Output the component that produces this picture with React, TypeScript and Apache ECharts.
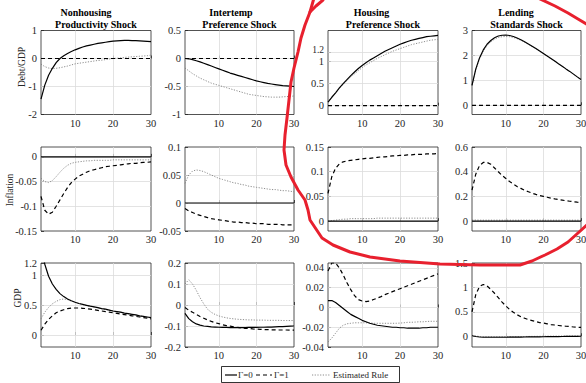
import React, { useEffect, useRef } from "react";
import * as echarts from "echarts";

const periods = [1,2,3,4,5,6,7,8,9,10,11,12,13,14,15,16,17,18,19,20,21,22,23,24,25,26,27,28,29,30];
const zeros = [0,0,0,0,0,0,0,0,0,0,0,0,0,0,0,0,0,0,0,0,0,0,0,0,0,0,0,0,0,0];
const xTicks = [10, 20, 30];

const shockTitles = [["Nonhousing", "Productivity Shock"], ["Intertemp", "Preference Shock"], ["Housing", "Preference Shock"], ["Lending", "Standards Shock"]];
const rowNames = ["Debt/GDP", "Inflation", "GDP"];
const legendNames = ["\u0393=0", "\u0393=1", "Estimated Rule"];

// Row 1: Debt/GDP
const debtProdG0 = [-1.45,-0.95,-0.6,-0.35,-0.15,0.0,0.1,0.18,0.25,0.31,0.36,0.41,0.45,0.48,0.51,0.54,0.56,0.58,0.6,0.62,0.63,0.64,0.645,0.645,0.64,0.635,0.63,0.62,0.61,0.6];
const debtProdG1 = zeros;
const debtProdEst = [-0.2,-0.29,-0.34,-0.36,-0.35,-0.33,-0.3,-0.27,-0.23,-0.19,-0.17,-0.15,-0.13,-0.11,-0.09,-0.07,-0.06,-0.04,-0.02,0.0,0.01,0.02,0.04,0.05,0.06,0.07,0.08,0.09,0.1,0.12];

const debtIntG0 = [0,-0.005,-0.02,-0.04,-0.06,-0.085,-0.11,-0.135,-0.16,-0.185,-0.21,-0.235,-0.26,-0.28,-0.3,-0.32,-0.34,-0.36,-0.38,-0.4,-0.415,-0.43,-0.445,-0.455,-0.465,-0.475,-0.485,-0.49,-0.495,-0.5];
const debtIntG1 = zeros;
const debtIntEst = [-0.17,-0.22,-0.27,-0.31,-0.35,-0.38,-0.41,-0.44,-0.46,-0.48,-0.5,-0.52,-0.54,-0.56,-0.58,-0.6,-0.62,-0.64,-0.65,-0.66,-0.67,-0.68,-0.685,-0.69,-0.69,-0.69,-0.685,-0.68,-0.675,-0.67];

const debtHousG0 = [0.08,0.19,0.29,0.4,0.5,0.59,0.68,0.76,0.84,0.91,0.97,1.03,1.08,1.13,1.18,1.23,1.27,1.31,1.35,1.39,1.42,1.45,1.48,1.5,1.52,1.54,1.56,1.57,1.58,1.59];
const debtHousG1 = zeros;
const debtHousEst = [0.08,0.19,0.29,0.39,0.48,0.57,0.65,0.72,0.79,0.86,0.92,0.97,1.02,1.07,1.11,1.15,1.19,1.23,1.26,1.29,1.32,1.35,1.38,1.4,1.42,1.44,1.46,1.48,1.49,1.5];

const debtLendG0 = [0.8,1.45,1.9,2.22,2.45,2.6,2.71,2.78,2.81,2.82,2.8,2.76,2.7,2.63,2.55,2.46,2.37,2.28,2.18,2.08,1.98,1.88,1.78,1.67,1.57,1.46,1.36,1.25,1.14,1.03];
const debtLendG1 = zeros;
const debtLendEst = [0.8,1.42,1.86,2.17,2.39,2.55,2.65,2.72,2.75,2.76,2.75,2.72,2.67,2.61,2.53,2.45,2.36,2.27,2.17,2.07,1.97,1.87,1.77,1.67,1.56,1.46,1.35,1.25,1.14,1.03];

// Row 2: Inflation
const inflProdG0 = zeros;
const inflProdG1 = [-0.08,-0.108,-0.116,-0.112,-0.1,-0.087,-0.074,-0.062,-0.052,-0.045,-0.039,-0.035,-0.031,-0.028,-0.026,-0.024,-0.022,-0.02,-0.019,-0.018,-0.017,-0.016,-0.015,-0.014,-0.013,-0.013,-0.012,-0.011,-0.011,-0.01];
const inflProdEst = [-0.043,-0.05,-0.052,-0.048,-0.04,-0.031,-0.023,-0.017,-0.013,-0.011,-0.01,-0.009,-0.008,-0.008,-0.007,-0.007,-0.007,-0.007,-0.007,-0.006,-0.006,-0.006,-0.006,-0.006,-0.006,-0.006,-0.006,-0.006,-0.006,-0.006];

const inflIntG0 = zeros;
const inflIntG1 = [-0.01,-0.014,-0.017,-0.02,-0.022,-0.024,-0.026,-0.028,-0.029,-0.03,-0.031,-0.032,-0.033,-0.034,-0.034,-0.035,-0.035,-0.036,-0.036,-0.037,-0.037,-0.037,-0.038,-0.038,-0.038,-0.038,-0.039,-0.039,-0.039,-0.039];
const inflIntEst = [0.035,0.05,0.057,0.059,0.058,0.056,0.053,0.05,0.047,0.044,0.042,0.04,0.038,0.036,0.035,0.033,0.032,0.03,0.029,0.028,0.027,0.026,0.025,0.024,0.024,0.023,0.022,0.022,0.021,0.02];

const inflHousG0 = zeros;
const inflHousG1 = [0.056,0.09,0.107,0.116,0.12,0.122,0.123,0.124,0.125,0.126,0.127,0.127,0.128,0.129,0.13,0.13,0.131,0.132,0.132,0.133,0.133,0.134,0.134,0.135,0.135,0.135,0.136,0.136,0.136,0.137];
const inflHousEst = [0,0.001,0.002,0.003,0.004,0.004,0.005,0.005,0.005,0.005,0.005,0.005,0.005,0.006,0.006,0.006,0.006,0.006,0.006,0.006,0.006,0.006,0.006,0.006,0.006,0.006,0.006,0.006,0.006,0.006];

const inflLendG0 = zeros;
const inflLendG1 = [0.25,0.38,0.45,0.475,0.475,0.46,0.43,0.4,0.37,0.345,0.32,0.3,0.28,0.265,0.25,0.238,0.226,0.216,0.207,0.2,0.193,0.186,0.18,0.175,0.17,0.165,0.161,0.157,0.153,0.15];
const inflLendEst = [0.01,0.009,0.008,0.008,0.008,0.008,0.008,0.008,0.008,0.008,0.008,0.008,0.008,0.008,0.008,0.008,0.008,0.008,0.008,0.008,0.008,0.008,0.008,0.008,0.008,0.008,0.008,0.008,0.008,0.008];

// Row 3: GDP
const gdpProdG0 = [1.5,1.18,0.98,0.85,0.76,0.69,0.64,0.6,0.57,0.545,0.525,0.51,0.495,0.48,0.47,0.455,0.44,0.43,0.415,0.4,0.39,0.38,0.365,0.355,0.345,0.335,0.32,0.31,0.3,0.29];
const gdpProdG1 = [0.08,0.18,0.26,0.32,0.37,0.4,0.42,0.44,0.45,0.45,0.45,0.445,0.44,0.43,0.42,0.41,0.4,0.39,0.38,0.37,0.36,0.35,0.34,0.33,0.32,0.31,0.3,0.29,0.28,0.27];
const gdpProdEst = [0.27,0.38,0.46,0.52,0.56,0.59,0.6,0.59,0.565,0.545,0.525,0.508,0.492,0.478,0.466,0.452,0.438,0.426,0.412,0.398,0.386,0.375,0.362,0.35,0.34,0.33,0.318,0.306,0.296,0.285];

const gdpIntG0 = [-0.04,-0.065,-0.08,-0.09,-0.096,-0.1,-0.102,-0.104,-0.105,-0.106,-0.107,-0.107,-0.108,-0.108,-0.108,-0.108,-0.108,-0.107,-0.107,-0.107,-0.106,-0.106,-0.105,-0.105,-0.104,-0.103,-0.103,-0.102,-0.101,-0.1];
const gdpIntG1 = [-0.012,-0.025,-0.035,-0.045,-0.055,-0.063,-0.071,-0.078,-0.084,-0.089,-0.094,-0.098,-0.101,-0.104,-0.107,-0.109,-0.111,-0.112,-0.114,-0.115,-0.116,-0.117,-0.117,-0.118,-0.118,-0.119,-0.119,-0.119,-0.12,-0.12];
const gdpIntEst = [0.1,0.12,0.1,0.07,0.035,0.005,-0.02,-0.035,-0.045,-0.052,-0.057,-0.061,-0.064,-0.066,-0.068,-0.069,-0.07,-0.071,-0.071,-0.072,-0.072,-0.072,-0.073,-0.073,-0.073,-0.073,-0.074,-0.074,-0.074,-0.074];

const gdpHousG0 = [0.007,0.007,0.005,0.002,-0.001,-0.004,-0.007,-0.009,-0.011,-0.013,-0.0145,-0.016,-0.017,-0.018,-0.0185,-0.019,-0.0195,-0.02,-0.02,-0.0205,-0.0205,-0.021,-0.021,-0.021,-0.021,-0.0205,-0.0205,-0.02,-0.02,-0.02];
const gdpHousG1 = [0.037,0.045,0.045,0.04,0.033,0.025,0.018,0.012,0.008,0.0065,0.006,0.0065,0.008,0.0095,0.011,0.013,0.0145,0.016,0.0175,0.019,0.0205,0.022,0.0235,0.025,0.0265,0.028,0.0295,0.031,0.0325,0.034];
const gdpHousEst = [-0.035,-0.031,-0.026,-0.021,-0.018,-0.0165,-0.016,-0.0155,-0.0155,-0.0155,-0.0155,-0.0155,-0.016,-0.016,-0.016,-0.016,-0.016,-0.016,-0.016,-0.0158,-0.0155,-0.015,-0.015,-0.0148,-0.0145,-0.0145,-0.0142,-0.014,-0.014,-0.014];

const gdpLendG0 = [0.01,-0.005,-0.015,-0.02,-0.02,-0.02,-0.02,-0.02,-0.02,-0.02,-0.019,-0.018,-0.017,-0.016,-0.015,-0.014,-0.013,-0.012,-0.011,-0.01,-0.009,-0.008,-0.007,-0.006,-0.005,-0.004,-0.003,-0.002,-0.001,0];
const gdpLendG1 = [0.5,0.85,1.02,1.06,1.03,0.96,0.88,0.79,0.7,0.62,0.55,0.49,0.44,0.4,0.37,0.34,0.32,0.3,0.28,0.27,0.255,0.24,0.23,0.22,0.21,0.205,0.2,0.19,0.185,0.18];
const gdpLendEst = [0.02,0.005,-0.005,-0.01,-0.01,-0.01,-0.01,-0.01,-0.01,-0.01,-0.009,-0.008,-0.007,-0.006,-0.005,-0.004,-0.003,-0.002,-0.001,0,0.001,0.002,0.003,0.004,0.005,0.006,0.007,0.008,0.009,0.01];

// y-axis ranges and ticks per panel (row-major)
const yMins = [-2, -1, -0.2, -0.37, -0.15, -0.05, -0.02, -0.08, -0.2, -0.2, -0.04, -0.22];
const yMaxs = [1, 0.5, 1.7, 3, 0.02, 0.1, 0.15, 0.6, 1.2, 0.2, 0.045, 1.5];
const yTicks = [
  [-2, -1, 0, 1], [-1, -0.5, 0, 0.5], [0, 0.5, 1], [0, 1, 2, 3],
  [-0.15, -0.1, -0.05, 0], [-0.05, 0, 0.05, 0.1], [0, 0.05, 0.1, 0.15], [0, 0.2, 0.4, 0.6],
  [0, 0.5, 1], [-0.2, -0.1, 0, 0.1, 0.2], [-0.04, -0.02, 0, 0.02, 0.04], [0, 0.5, 1, 1.5],
];
// extra tick labels placed close to a neighbour (kept on a second axis so neither is hidden)
const yExtraTicks = [[], [], [1.2], [], [], [], [], [], [1.2], [], [], []];
const panelG0 = [debtProdG0, debtIntG0, debtHousG0, debtLendG0, inflProdG0, inflIntG0, inflHousG0, inflLendG0, gdpProdG0, gdpIntG0, gdpHousG0, gdpLendG0];
const panelG1 = [debtProdG1, debtIntG1, debtHousG1, debtLendG1, inflProdG1, inflIntG1, inflHousG1, inflLendG1, gdpProdG1, gdpIntG1, gdpHousG1, gdpLendG1];
const panelEst = [debtProdEst, debtIntEst, debtHousEst, debtLendEst, inflProdEst, inflIntEst, inflHousEst, inflLendEst, gdpProdEst, gdpIntEst, gdpHousEst, gdpLendEst];

const FONT = "Liberation Serif";
const colLeft = [41, 185, 328, 472];
const colWidth = [110, 109, 110, 109];
const rowTop = [30.5, 147, 263];
const rowHeight = 84;

const styleG0 = { color: "#000", width: 1.2, type: "solid" as any };
const styleG1 = { color: "#000", width: 1.2, type: [4, 3] as any };
const styleEst = { color: "#808080", width: 0.9, type: [1.2, 1.5] as any };

const App: React.FC = () => {
  const ref = useRef<HTMLDivElement>(null);
  useEffect(() => {
    if (!ref.current) return;
    const chart = echarts.init(ref.current, null, { renderer: "svg" });
    const grids: any[] = [];
    const xAxes: any[] = [];
    const yAxes: any[] = [];
    const extraY: any[] = [];
    const series: any[] = [];
    const labelStyle = { fontFamily: FONT, fontSize: 10.5, color: "#262626", hideOverlap: false };
    const tickStyle = { show: true, inside: true, length: 3, lineStyle: { color: "#262626", width: 0.8 } };
    const tightLabels: any[] = [];
    for (let i = 0; i < 12; i++) {
      const r = Math.floor(i / 4);
      const c = i % 4;
      grids.push({
        left: colLeft[c], top: rowTop[r], width: colWidth[c], height: rowHeight,
        show: true, borderColor: "#262626", borderWidth: 0.8, backgroundColor: "transparent",
        containLabel: false, outerBoundsMode: "none",
      });
      xAxes.push({
        type: "value", gridIndex: i, min: 1, max: 30,
        axisLine: { show: false }, splitLine: { show: false },
        axisTick: { ...tickStyle, customValues: xTicks },
        axisLabel: { ...labelStyle, margin: 3, customValues: xTicks },
      });
      yAxes.push({
        type: "value", gridIndex: i, min: yMins[i], max: yMaxs[i], position: "left",
        axisLine: { show: false }, splitLine: { show: false },
        axisTick: { ...tickStyle, customValues: yTicks[i] },
        axisLabel: { ...labelStyle, lineHeight: 8, margin: 4, customValues: yTicks[i], showMinLabel: true, showMaxLabel: true },
      });
      if (yExtraTicks[i].length) {
        // the 1.2 label in the Housing panel sits only 9px above "1": nudge it up a little and shrink it
        const tight = (yExtraTicks[i][0] - yTicks[i][yTicks[i].length - 1]) / (yMaxs[i] - yMins[i]) * rowHeight < 11;
        extraY.push({
          type: "value", gridIndex: i, min: yMins[i], max: yMaxs[i], position: "left", offset: 0,
          axisLine: { show: false }, splitLine: { show: false },
          axisTick: { ...tickStyle, customValues: yExtraTicks[i] },
          axisLabel: { ...labelStyle, show: !tight, lineHeight: 8, margin: 4, customValues: yExtraTicks[i], showMinLabel: true, showMaxLabel: true },
        });
        if (tight) {
          const yPix = rowTop[r] + (yMaxs[i] - yExtraTicks[i][0]) / (yMaxs[i] - yMins[i]) * rowHeight;
          tightLabels.push({ type: "text", x: colLeft[c] - 4, y: yPix - 2.5, style: { text: String(yExtraTicks[i][0]), fontFamily: FONT, fontSize: 9.5, fill: "#262626", align: "right", verticalAlign: "middle" } });
        }
      }
      const gridData: any[] = [];
      xTicks.filter((v) => v < 30).forEach((v) => gridData.push({ xAxis: v }));
      yTicks[i].concat(yExtraTicks[i]).filter((v) => v > yMins[i] && v < yMaxs[i]).forEach((v) => gridData.push({ yAxis: v }));
      series.push({
        type: "line", name: "grid" + i, xAxisIndex: i, yAxisIndex: i, data: [], silent: true, z: 1,
        markLine: {
          z: 1, silent: true, symbol: ["none", "none"], label: { show: false }, animation: false,
          lineStyle: { color: "#dcdcdc", width: 0.8, type: "solid" },
          emphasis: { disabled: true },
          data: gridData,
        },
      });
      const mk = (vals: number[]) => periods.map((p, k) => [p, vals[k]]);
      series.push({
        type: "line", name: legendNames[2], xAxisIndex: i, yAxisIndex: i, data: mk(panelEst[i]),
        symbol: "none", showSymbol: false, z: 6, itemStyle: { color: "#808080" }, lineStyle: styleEst,
      });
      series.push({
        type: "line", name: legendNames[1], xAxisIndex: i, yAxisIndex: i, data: mk(panelG1[i]),
        symbol: "none", showSymbol: false, z: 7, itemStyle: { color: "#000" }, lineStyle: styleG1,
      });
      series.push({
        type: "line", name: legendNames[0], xAxisIndex: i, yAxisIndex: i, data: mk(panelG0[i]),
        symbol: "none", showSymbol: false, z: 8, itemStyle: { color: "#000" }, lineStyle: styleG0,
      });
    }

    const titleLine1X = [86, 231, 371.5, 516];
    const graphic: any[] = [...tightLabels];
    for (let c = 0; c < 4; c++) {
      const center = colLeft[c] + colWidth[c] / 2;
      graphic.push({ type: "text", x: titleLine1X[c], y: 12.5, style: { text: shockTitles[c][0], fontFamily: FONT, fontSize: 10, fontWeight: "bold", fill: "#000", align: "center", verticalAlign: "middle" } });
      graphic.push({ type: "text", x: center, y: 24, style: { text: shockTitles[c][1], fontFamily: FONT, fontSize: 10, fontWeight: "bold", fill: "#000", align: "center", verticalAlign: "middle" } });
    }
    const nameX = [22, 10, 18];
    const nameY = [67, 190, 298];
    for (let r = 0; r < 3; r++) {
      graphic.push({ type: "text", x: nameX[r], y: nameY[r], rotation: Math.PI / 2, style: { text: rowNames[r], fontFamily: FONT, fontSize: 9.5, fill: "#262626", align: "center", verticalAlign: "middle" } });
    }

    // legend box drawn by hand (line samples without markers)
    const legY = 375;
    graphic.push({ type: "rect", z: 50, shape: { x: 221.5, y: 366.5, width: 178, height: 16 }, style: { fill: "#fff", stroke: "#000", lineWidth: 0.8 } });
    const legLineX = [[225, 237], [256, 272], [312, 330]];
    const legTextX = [238, 274, 333];
    const legStyles = [styleG0, styleG1, styleEst];
    for (let k = 0; k < 3; k++) {
      const s = legStyles[k];
      graphic.push({ type: "line", z: 51, shape: { x1: legLineX[k][0], y1: legY, x2: legLineX[k][1], y2: legY }, style: { stroke: s.color, lineWidth: s.width, lineDash: s.type === "solid" ? null : s.type } });
      graphic.push({ type: "text", z: 51, x: legTextX[k], y: legY, style: { text: legendNames[k], fontFamily: FONT, fontSize: 9, fill: "#262626", align: "left", verticalAlign: "middle" } });
    }

    const red = { stroke: "#e8202e", lineWidth: 3, fill: "none", lineJoin: "round", lineCap: "round" };
    graphic.push({ type: "polyline", z: 100, shape: { points: [[323,0],[316,6],[310,12],[305,25],[301,38],[298,52],[294,68],[291,82],[289,100],[287,118],[285,135],[284,150],[286,165],[291,177],[298,190],[305,200],[308,210],[310,220],[316,229],[322,238],[333,245],[350,252],[370,257],[400,261],[440,264],[480,265],[520,265],[532,261],[545,255],[557,249],[568,242],[578,233],[588,224]] }, style: red });
    graphic.push({ type: "polyline", z: 100, shape: { points: [[314,-2],[310,12]] }, style: red });
    graphic.push({ type: "polyline", z: 100, shape: { points: [[538,-2],[555,6],[568,13],[578,19],[588,25]] }, style: red });

    chart.setOption({
      animation: false,
      backgroundColor: "#fff",
      grid: grids,
      xAxis: xAxes,
      yAxis: yAxes.concat(extraY),
      series,
      graphic,
    });
    return () => chart.dispose();
  }, []);
  return <div ref={ref} style={{ position: "absolute", left: 0, top: 0, width: 586, height: 383 }} />;
};

export default App;
